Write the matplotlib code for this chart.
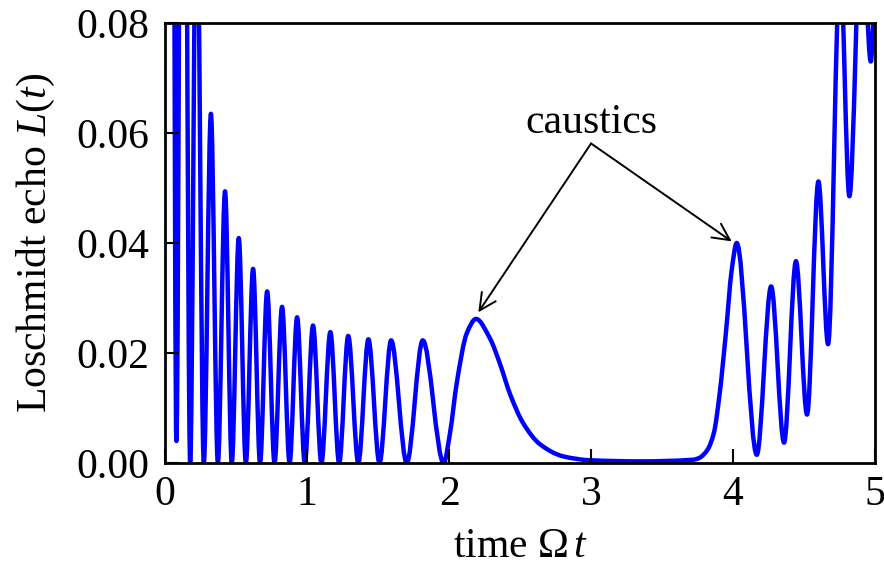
import numpy as np
import matplotlib
matplotlib.use("Agg")
import matplotlib.pyplot as plt
from matplotlib.path import Path
from matplotlib.patches import PathPatch

plt.rcParams['font.family'] = ['Liberation Serif', 'DejaVu Serif']
plt.rcParams['mathtext.fontset'] = 'custom'
plt.rcParams['mathtext.rm'] = 'Liberation Serif'
plt.rcParams['mathtext.it'] = 'Liberation Serif:italic'

# extrema and shape points of L(t)
t_pts = [0.000, 0.080, 0.125, 0.177, 0.222, 0.273, 0.323, 0.372, 0.4225, 0.470,
         0.519, 0.569, 0.620, 0.669, 0.719, 0.771, 0.824, 0.877, 0.930, 0.984,
         1.042, 1.101, 1.164, 1.226, 1.290, 1.361, 1.432, 1.510, 1.592, 1.702,
         1.815, 1.962, 2.007, 2.054, 2.125, 2.190, 2.289, 2.359, 2.430, 2.523,
         2.641, 2.805, 2.993, 3.345, 3.720, 3.760, 3.820, 3.865, 3.905, 3.950,
         3.990, 4.026, 4.167, 4.268, 4.359, 4.443, 4.521, 4.601, 4.669, 4.754,
         4.819, 4.905, 4.970, 5.000]
L_pts = [1.000, 0.0040, 0.220, 0.000, 0.110, 0.000, 0.0635, 0.000, 0.0494, 0.000,
         0.0409, 0.000, 0.0353, 0.000, 0.0312, 0.000, 0.0284, 0.000, 0.0265, 0.000,
         0.0250, 0.000, 0.0238, 0.000, 0.0231, 0.000, 0.0225, 0.000, 0.0223, 0.000,
         0.0223, 0.000, 0.0055, 0.0145, 0.0236, 0.0262, 0.0226, 0.0180, 0.0125, 0.0072,
         0.0034, 0.0012, 0.0005, 0.0003, 0.0006, 0.0009, 0.0024, 0.0055, 0.0125, 0.0238,
         0.0350, 0.0400, 0.0015, 0.0321, 0.0037, 0.0367, 0.0088, 0.0512, 0.0216, 0.091,
         0.0485, 0.100, 0.0730, 0.085]

xticks = [0, 1, 2, 3, 4, 5]
yticks = [0.00, 0.02, 0.04, 0.06, 0.08]

# smooth path through the read points (monotone cubic tangents -> Bezier)
t = np.array(t_pts)
y = np.array(L_pts)
h = np.diff(t)
d = np.diff(y) / h
m = np.zeros_like(y)
for k in range(1, len(y) - 1):
    if d[k - 1] * d[k] > 0:
        w1 = 2 * h[k] + h[k - 1]
        w2 = h[k] + 2 * h[k - 1]
        m[k] = (w1 + w2) / (w1 / d[k - 1] + w2 / d[k])

verts = [(t[0], y[0])]
codes = [Path.MOVETO]
for k in range(len(t) - 1):
    verts += [(t[k] + h[k] / 3, y[k] + m[k] * h[k] / 3),
              (t[k + 1] - h[k] / 3, y[k + 1] - m[k + 1] * h[k] / 3),
              (t[k + 1], y[k + 1])]
    codes += [Path.CURVE4] * 3

fig = plt.figure(figsize=(8.84, 5.67), dpi=100)
ax = fig.add_axes([0.1867, 0.1834, 0.8032, 0.776])

ax.add_patch(PathPatch(Path(verts, codes), facecolor='none', edgecolor='#0000ff',
                       lw=3.2, capstyle='round', joinstyle='round'))

ax.set_xlim(0, 5)
ax.set_ylim(0, 0.08)
ax.set_xticks(xticks)
ax.set_yticks(yticks)
ax.set_xticklabels([str(v) for v in xticks])
ax.set_yticklabels(['%.2f' % v for v in yticks])
ax.tick_params(direction='in', length=10, width=1.5, labelsize=30)
ax.tick_params(axis='x', pad=9)
ax.tick_params(axis='y', pad=11.5)
for s in ax.spines.values():
    s.set_linewidth(2.0)

ax.set_xlabel(r'time $\Omega\,t$', fontsize=30)
ax.set_ylabel(r'Loschmidt echo $L(t)$', fontsize=30)
ax.xaxis.set_label_coords(0.5, -0.146)
ax.yaxis.set_label_coords(-0.152, 0.5)

ax.text(3.0, 0.060, 'caustics', fontsize=30, ha='center', va='baseline')
arrow = dict(arrowstyle='->,head_length=0.6,head_width=0.3', lw=1.4,
             color='black', mutation_scale=20, shrinkA=0, shrinkB=0)
ax.annotate('', xy=(2.206, 0.0274), xytext=(3.0, 0.0581), arrowprops=arrow)
ax.annotate('', xy=(3.99, 0.0403), xytext=(3.0, 0.0581), arrowprops=arrow)

fig.savefig('out.png', dpi=100)
